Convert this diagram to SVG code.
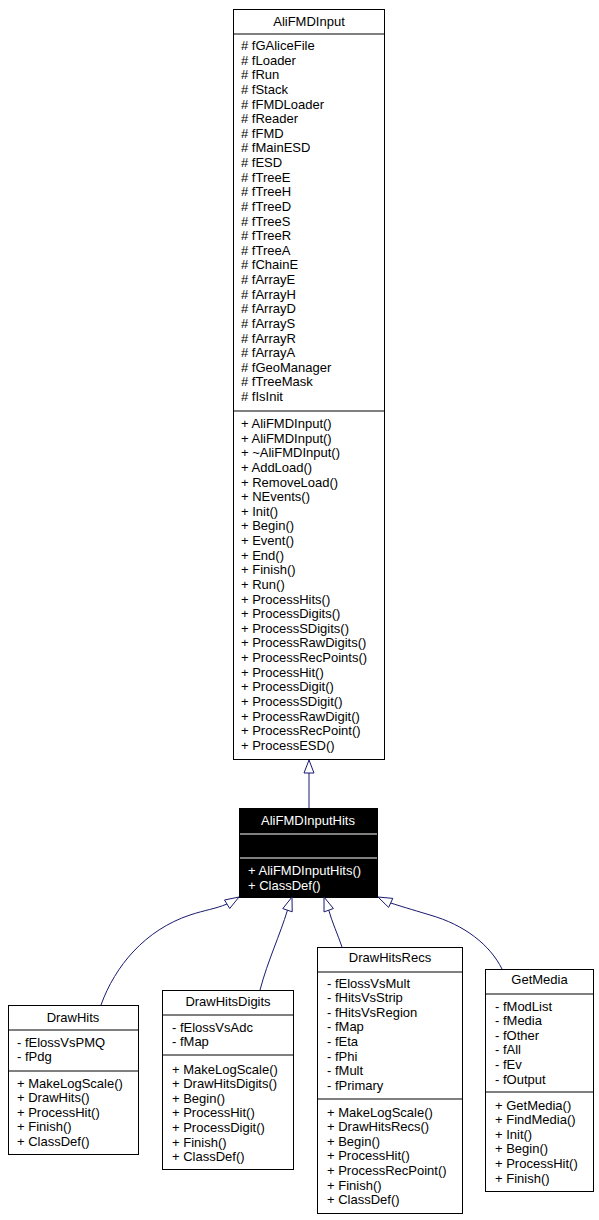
<svg xmlns="http://www.w3.org/2000/svg" width="599" height="1220" viewBox="0 0 599 1220">
<style>
text{font-family:"Liberation Sans",Arial,sans-serif;font-size:13px;fill:#000}
.t{text-anchor:middle}
.w{fill:#fff}
.box{fill:#fff;stroke:#000;stroke-width:1}
.sep{stroke:#000;stroke-width:1}
.bbox{fill:#000;stroke:#000;stroke-width:1}
.wsep{stroke:#fff;stroke-width:1}
.edge{fill:none;stroke:#191970;stroke-width:1}
.ah{fill:#fff;stroke:#191970;stroke-width:1}
</style>
<rect width="599" height="1220" fill="#fff"/>
<g id="AliFMDInput">
<rect class="box" x="233.5" y="9.5" width="151" height="750"/>
<line class="sep" x1="233.5" y1="34" x2="384.5" y2="34"/>
<line class="sep" x1="233.5" y1="411" x2="384.5" y2="411"/>
<text class="t" x="309" y="26">AliFMDInput</text>
<text x="241" y="50">
<tspan x="241" dy="0"># fGAliceFile</tspan>
<tspan x="241" dy="14.63"># fLoader</tspan>
<tspan x="241" dy="14.63"># fRun</tspan>
<tspan x="241" dy="14.63"># fStack</tspan>
<tspan x="241" dy="14.63"># fFMDLoader</tspan>
<tspan x="241" dy="14.63"># fReader</tspan>
<tspan x="241" dy="14.63"># fFMD</tspan>
<tspan x="241" dy="14.63"># fMainESD</tspan>
<tspan x="241" dy="14.63"># fESD</tspan>
<tspan x="241" dy="14.63"># fTreeE</tspan>
<tspan x="241" dy="14.63"># fTreeH</tspan>
<tspan x="241" dy="14.63"># fTreeD</tspan>
<tspan x="241" dy="14.63"># fTreeS</tspan>
<tspan x="241" dy="14.63"># fTreeR</tspan>
<tspan x="241" dy="14.63"># fTreeA</tspan>
<tspan x="241" dy="14.63"># fChainE</tspan>
<tspan x="241" dy="14.63"># fArrayE</tspan>
<tspan x="241" dy="14.63"># fArrayH</tspan>
<tspan x="241" dy="14.63"># fArrayD</tspan>
<tspan x="241" dy="14.63"># fArrayS</tspan>
<tspan x="241" dy="14.63"># fArrayR</tspan>
<tspan x="241" dy="14.63"># fArrayA</tspan>
<tspan x="241" dy="14.63"># fGeoManager</tspan>
<tspan x="241" dy="14.63"># fTreeMask</tspan>
<tspan x="241" dy="14.63"># fIsInit</tspan>
</text>
<text x="241" y="428">
<tspan x="241" dy="0">+ AliFMDInput()</tspan>
<tspan x="241" dy="14.63">+ AliFMDInput()</tspan>
<tspan x="241" dy="14.63">+ ~AliFMDInput()</tspan>
<tspan x="241" dy="14.63">+ AddLoad()</tspan>
<tspan x="241" dy="14.63">+ RemoveLoad()</tspan>
<tspan x="241" dy="14.63">+ NEvents()</tspan>
<tspan x="241" dy="14.63">+ Init()</tspan>
<tspan x="241" dy="14.63">+ Begin()</tspan>
<tspan x="241" dy="14.63">+ Event()</tspan>
<tspan x="241" dy="14.63">+ End()</tspan>
<tspan x="241" dy="14.63">+ Finish()</tspan>
<tspan x="241" dy="14.63">+ Run()</tspan>
<tspan x="241" dy="14.63">+ ProcessHits()</tspan>
<tspan x="241" dy="14.63">+ ProcessDigits()</tspan>
<tspan x="241" dy="14.63">+ ProcessSDigits()</tspan>
<tspan x="241" dy="14.63">+ ProcessRawDigits()</tspan>
<tspan x="241" dy="14.63">+ ProcessRecPoints()</tspan>
<tspan x="241" dy="14.63">+ ProcessHit()</tspan>
<tspan x="241" dy="14.63">+ ProcessDigit()</tspan>
<tspan x="241" dy="14.63">+ ProcessSDigit()</tspan>
<tspan x="241" dy="14.63">+ ProcessRawDigit()</tspan>
<tspan x="241" dy="14.63">+ ProcessRecPoint()</tspan>
<tspan x="241" dy="14.63">+ ProcessESD()</tspan>
</text>
</g>
<g id="AliFMDInputHits">
<rect class="bbox" x="239.5" y="808.5" width="138" height="89"/>
<line class="wsep" x1="240" y1="834" x2="377" y2="834"/>
<line class="wsep" x1="240" y1="858" x2="377" y2="858"/>
<text class="t w" x="308" y="825">AliFMDInputHits</text>
<text class="w" x="248" y="875">+ AliFMDInputHits()</text>
<text class="w" x="248" y="889.6">+ ClassDef()</text>
</g>
<g id="DrawHits">
<rect class="box" x="8.5" y="1005.5" width="130" height="149"/>
<line class="sep" x1="8.5" y1="1030" x2="138.5" y2="1030"/>
<line class="sep" x1="8.5" y1="1071" x2="138.5" y2="1071"/>
<text class="t" x="73" y="1022">DrawHits</text>
<text x="17" y="1046.5">
<tspan x="17" dy="0">- fElossVsPMQ</tspan>
<tspan x="17" dy="14.63">- fPdg</tspan>
</text>
<text x="17" y="1087.5">
<tspan x="17" dy="0">+ MakeLogScale()</tspan>
<tspan x="17" dy="14.63">+ DrawHits()</tspan>
<tspan x="17" dy="14.63">+ ProcessHit()</tspan>
<tspan x="17" dy="14.63">+ Finish()</tspan>
<tspan x="17" dy="14.63">+ ClassDef()</tspan>
</text>
</g>
<g id="DrawHitsDigits">
<rect class="box" x="162.5" y="990.5" width="131" height="179"/>
<line class="sep" x1="162.5" y1="1015" x2="293.5" y2="1015"/>
<line class="sep" x1="162.5" y1="1055" x2="293.5" y2="1055"/>
<text class="t" x="228" y="1006">DrawHitsDigits</text>
<text x="172" y="1031.5">
<tspan x="172" dy="0">- fElossVsAdc</tspan>
<tspan x="172" dy="14.63">- fMap</tspan>
</text>
<text x="172" y="1073.5">
<tspan x="172" dy="0">+ MakeLogScale()</tspan>
<tspan x="172" dy="14.63">+ DrawHitsDigits()</tspan>
<tspan x="172" dy="14.63">+ Begin()</tspan>
<tspan x="172" dy="14.63">+ ProcessHit()</tspan>
<tspan x="172" dy="14.63">+ ProcessDigit()</tspan>
<tspan x="172" dy="14.63">+ Finish()</tspan>
<tspan x="172" dy="14.63">+ ClassDef()</tspan>
</text>
</g>
<g id="DrawHitsRecs">
<rect class="box" x="317.5" y="947.5" width="145" height="266"/>
<line class="sep" x1="317.5" y1="972" x2="462.5" y2="972"/>
<line class="sep" x1="317.5" y1="1099" x2="462.5" y2="1099"/>
<text class="t" x="390" y="962">DrawHitsRecs</text>
<text x="327" y="987.5">
<tspan x="327" dy="0">- fElossVsMult</tspan>
<tspan x="327" dy="14.63">- fHitsVsStrip</tspan>
<tspan x="327" dy="14.63">- fHitsVsRegion</tspan>
<tspan x="327" dy="14.63">- fMap</tspan>
<tspan x="327" dy="14.63">- fEta</tspan>
<tspan x="327" dy="14.63">- fPhi</tspan>
<tspan x="327" dy="14.63">- fMult</tspan>
<tspan x="327" dy="14.63">- fPrimary</tspan>
</text>
<text x="327" y="1116.5">
<tspan x="327" dy="0">+ MakeLogScale()</tspan>
<tspan x="327" dy="14.63">+ DrawHitsRecs()</tspan>
<tspan x="327" dy="14.63">+ Begin()</tspan>
<tspan x="327" dy="14.63">+ ProcessHit()</tspan>
<tspan x="327" dy="14.63">+ ProcessRecPoint()</tspan>
<tspan x="327" dy="14.63">+ Finish()</tspan>
<tspan x="327" dy="14.63">+ ClassDef()</tspan>
</text>
</g>
<g id="GetMedia">
<rect class="box" x="485.5" y="969.5" width="108" height="222"/>
<line class="sep" x1="485.5" y1="994" x2="593.5" y2="994"/>
<line class="sep" x1="485.5" y1="1092" x2="593.5" y2="1092"/>
<text class="t" x="539.5" y="984">GetMedia</text>
<text x="495" y="1010.5">
<tspan x="495" dy="0">- fModList</tspan>
<tspan x="495" dy="14.63">- fMedia</tspan>
<tspan x="495" dy="14.63">- fOther</tspan>
<tspan x="495" dy="14.63">- fAll</tspan>
<tspan x="495" dy="14.63">- fEv</tspan>
<tspan x="495" dy="14.63">- fOutput</tspan>
</text>
<text x="495" y="1109.5">
<tspan x="495" dy="0">+ GetMedia()</tspan>
<tspan x="495" dy="14.63">+ FindMedia()</tspan>
<tspan x="495" dy="14.63">+ Init()</tspan>
<tspan x="495" dy="14.63">+ Begin()</tspan>
<tspan x="495" dy="14.63">+ ProcessHit()</tspan>
<tspan x="495" dy="14.63">+ Finish()</tspan>
</text>
</g>
<g id="connectors">
<path class="edge" d="M309,808 L309,773"/>
<polygon class="ah" points="309,760 304,773 314,773"/>
<path class="edge" d="M101,1005 C115,966 145,930 190,915 C205,910 215,909 227,904"/>
<polygon class="ah" points="239,897 229.7,908.5 224.5,900"/>
<path class="edge" d="M260,990 C268,960 280,935 287.5,910"/>
<polygon class="ah" points="292,897 292.2,911.8 282.8,908.6"/>
<path class="edge" d="M342,947 C338,935 332,922 328.7,910"/>
<polygon class="ah" points="324,897 333.4,908.5 324,911.9"/>
<path class="edge" d="M502,969 C490,945 465,925 430,915 C410,909 400,906 390.7,903"/>
<polygon class="ah" points="378,897 392.8,898.4 388.6,907.4"/>
</g>
</svg>
